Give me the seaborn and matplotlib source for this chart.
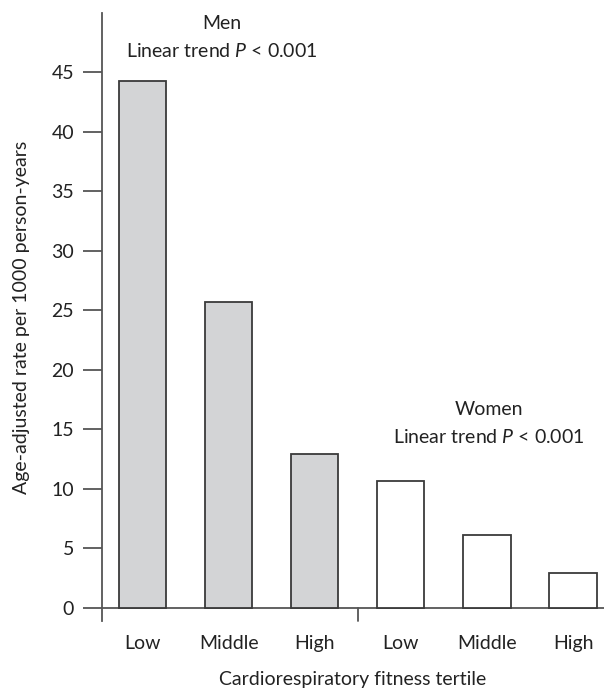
import pandas as pd
import matplotlib
matplotlib.use("Agg")
import matplotlib.pyplot as plt
import seaborn as sns

# данные
groups = ["Men", "Men", "Men", "Women", "Women", "Women"]
tertiles = ["Low", "Middle", "High", "Low", "Middle", "High"]
rates = [44.3, 25.7, 12.9, 10.7, 6.1, 2.9]
y_ticks = [0, 5, 10, 15, 20, 25, 30, 35, 40, 45]

df = pd.DataFrame({
    "bar": [f"{g} {t}" for g, t in zip(groups, tertiles)],
    "group": groups,
    "tertile": tertiles,
    "rate": rates,
})

sns.set_style("white")
plt.rcParams["font.family"] = ["Lato", "DejaVu Sans"]
plt.rcParams["mathtext.fontset"] = "custom"
plt.rcParams["mathtext.rm"] = "Lato"
plt.rcParams["mathtext.it"] = "Lato:italic"

line_col = "#555555"
txt_col = "#222222"
fs = 14

fig = plt.figure(figsize=(6.04, 6.9), dpi=100)
ax = fig.add_axes([102 / 604, 69 / 690, 502 / 604, 608 / 690])

sns.barplot(
    data=df,
    x="bar",
    y="rate",
    hue="group",
    order=df["bar"],
    palette={"Men": "#d3d4d6", "Women": "white"},
    dodge=False,
    width=0.55,
    edgecolor="#3a3a3a",
    linewidth=1.3,
    legend=False,
    ax=ax,
)

ax.set_xlim(-0.47, 5.36)
ax.set_ylim(-1.1, 50)

# оси
for side in ["top", "right", "bottom"]:
    ax.spines[side].set_visible(False)
ax.spines["left"].set_color(line_col)
ax.spines["left"].set_linewidth(1.3)
ax.axhline(0, color=line_col, linewidth=1.3, zorder=0)
ax.plot([2.5, 2.5], [0, -1.1], color=line_col, linewidth=1.3, clip_on=False)

ax.set_yticks(y_ticks)
ax.tick_params(axis="y", length=14, width=1.3, color=line_col,
               labelsize=fs, pad=6, left=True, labelcolor=txt_col)
ax.set_xticks(range(len(tertiles)))
ax.set_xticklabels(tertiles)
ax.tick_params(axis="x", length=0, labelsize=fs, pad=10, labelcolor=txt_col)

ax.set_xlabel("Cardiorespiratory fitness tertile", fontsize=fs, color=txt_col)
ax.xaxis.set_label_coords(0.5, -59 / 608)
ax.xaxis.label.set_va("center")

ax.set_ylabel("Age-adjusted rate per 1000 person-years", fontsize=fs, color=txt_col)
ax.yaxis.set_label_coords(-80 / 502, 0.5)
ax.yaxis.label.set_va("center")

# подписи групп
ax.text(0.92, 49.1, "Men", ha="center", va="center", fontsize=fs, color=txt_col)
ax.text(0.92, 46.8, "Linear trend $P$ < 0.001", ha="center", va="center",
        fontsize=fs, color=txt_col)
ax.text(4.02, 16.7, "Women", ha="center", va="center", fontsize=fs, color=txt_col)
ax.text(4.02, 14.4, "Linear trend $P$ < 0.001", ha="center", va="center",
        fontsize=fs, color=txt_col)

fig.savefig("out.png", dpi=100)
